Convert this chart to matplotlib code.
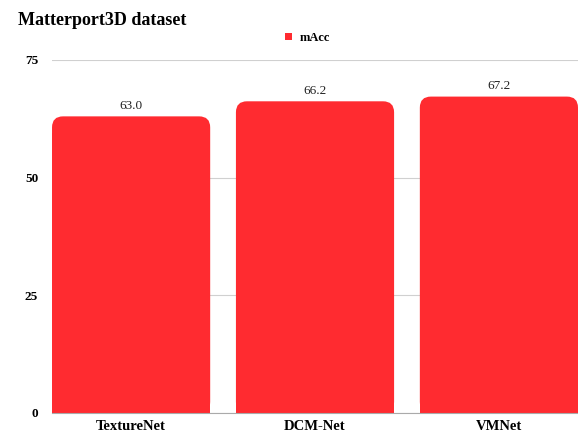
import matplotlib
matplotlib.use('Agg')
import matplotlib.pyplot as plt
from matplotlib.patches import FancyBboxPatch, Rectangle, Patch

plt.rcParams['font.family'] = ['Liberation Serif', 'DejaVu Serif']

# 数据
methods = ['TextureNet', 'DCM-Net', 'VMNet']
macc = [63.0, 66.2, 67.2]
yticks = [0, 25, 50, 75]

BAR_COLOR = '#ff2b30'

fig = plt.figure(figsize=(5.78, 4.37), dpi=100)
ax = fig.add_axes([0.09, 0.055, 0.91, 0.808])

x = list(range(len(methods)))
bars = ax.bar(x, macc, width=0.86, color=BAR_COLOR, zorder=2)

ax.set_xlim(-0.43, len(methods) - 1 + 0.43)
ax.set_ylim(0, 75)

# 把直角柱子换成顶部圆角
fig.canvas.draw()
px_x = (ax.transData.transform((1, 0))[0] - ax.transData.transform((0, 0))[0])
px_y = (ax.transData.transform((0, 1))[1] - ax.transData.transform((0, 0))[1])
rad_px = 11
rx = rad_px / px_x
ry = rad_px / px_y
for b in bars:
    b.set_visible(False)
    x0, w, h = b.get_x(), b.get_width(), b.get_height()
    top = FancyBboxPatch((x0 + rx, ry), w - 2 * rx, h - 2 * ry,
                         boxstyle=f'round,pad={rx},rounding_size={rx}',
                         mutation_aspect=ry / rx,
                         facecolor=BAR_COLOR, edgecolor='none', zorder=2)
    ax.add_patch(top)
    ax.add_patch(Rectangle((x0, 0), w, h - ry * 1.5, facecolor=BAR_COLOR,
                           edgecolor='none', zorder=2))
    ax.text(x0 + w / 2, h + 0.9, f'{h:.1f}', ha='center', va='bottom',
            fontsize=9.5, color='#222222')

ax.set_yticks(yticks)
ax.set_yticklabels([str(t) for t in yticks], fontsize=9.5, fontweight='bold')
ax.set_xticks(x)
ax.set_xticklabels(methods, fontsize=10.5, fontweight='bold')
ax.tick_params(axis='y', length=0, pad=10)
ax.tick_params(axis='x', length=0, pad=5)

ax.grid(axis='y', color='#d0d0d0', linewidth=0.8, zorder=0)
for s in ['left', 'right', 'top']:
    ax.spines[s].set_visible(False)
ax.spines['bottom'].set_color('#aaaaaa')
ax.spines['bottom'].set_zorder(3)

fig.text(0.031, 0.953, 'Matterport3D dataset', fontsize=13, fontweight='bold',
         ha='left', va='center')

handle = Patch(facecolor=BAR_COLOR, edgecolor='none', label='mAcc')
fig.legend(handles=[handle], loc='center', bbox_to_anchor=(0.532, 0.913),
           frameon=False, prop={'size': 9, 'weight': 'bold'},
           handlelength=0.6, handleheight=0.55, handletextpad=0.6)

fig.savefig('out.png', dpi=100, facecolor='white')
